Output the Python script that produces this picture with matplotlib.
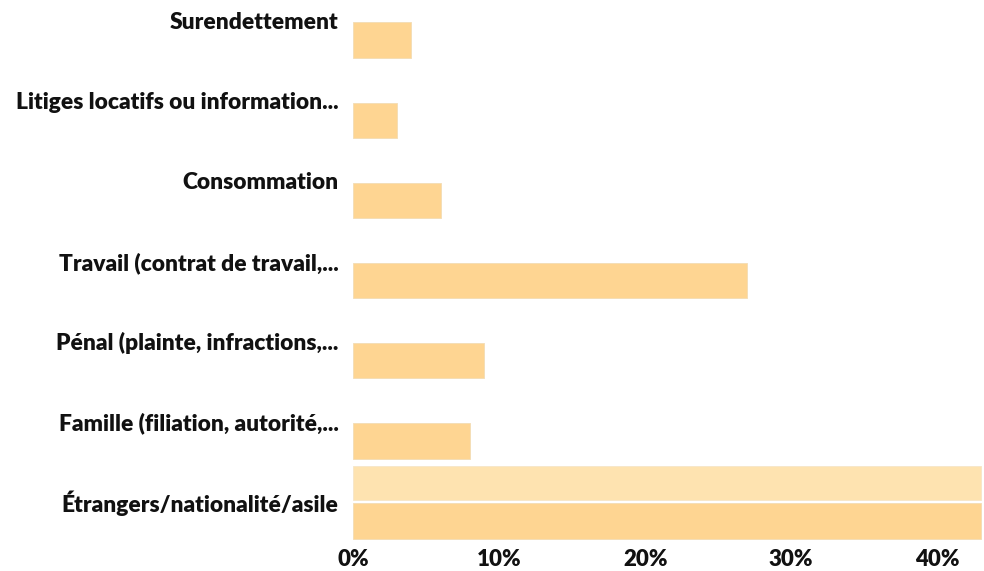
import matplotlib.pyplot as plt

categories = ['Surendettement', 'Litiges locatifs ou information...', 'Consommation',
              'Travail (contrat de travail,...', 'Pénal (plainte, infractions,...',
              'Famille (filiation, autorité,...', 'Étrangers/nationalité/asile']
values = [4, 3, 6, 27, 9, 8, 43]
highlight = [0, 0, 0, 0, 0, 0, 43]
xticks = [0, 10, 20, 30, 40]

plt.rcParams['font.family'] = ['Lato', 'DejaVu Sans']

fig = plt.figure(figsize=(9.84, 5.71), dpi=100)
ax = fig.add_axes([353 / 984, 28 / 571, 1 - 353 / 984, 543 / 571])

ypos = list(range(len(categories)))
ax.barh(ypos, values, height=0.44, color='#fed592', edgecolor='#f3dcb4', linewidth=0.6)
# lighter band above the highlighted category, only where it has a value
hy = [y - 0.475 for y, h in zip(ypos, highlight) if h > 0]
hv = [h for h in highlight if h > 0]
ax.barh(hy, hv, height=0.42, color='#fee3b0', edgecolor='#f6e6c8', linewidth=0.6)

for y, name in zip(ypos, categories):
    ax.text(-1.0, y - 0.22, name, ha='right', va='center', fontsize=16.4, fontweight='heavy', color='#111111')

ax.set_xlim(0, 43.2)
ax.set_ylim(6.274, -0.5)
ax.set_yticks([])
ax.set_xticks(xticks)
ax.set_xticklabels([f'{t}%' for t in xticks], fontsize=16, fontweight='heavy', color='#111111')
ax.tick_params(axis='x', length=0, pad=4)
for s in ax.spines.values():
    s.set_visible(False)

fig.savefig('out.png', dpi=100)
